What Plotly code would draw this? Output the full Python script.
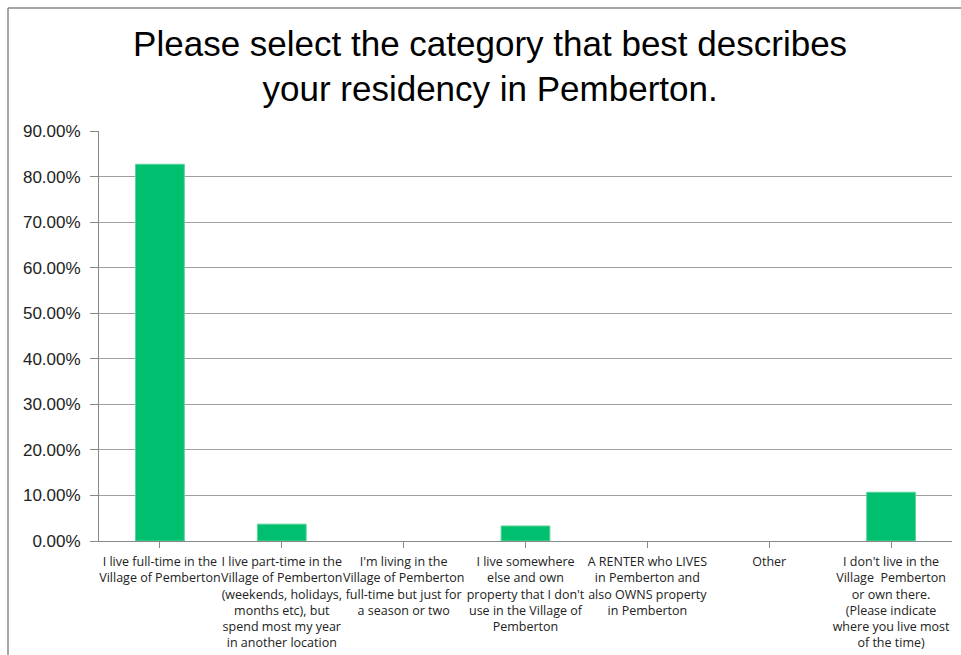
import plotly.graph_objects as go

categories = [
    "I live full-time in the<br>Village of Pemberton",
    "I live part-time in the<br>Village of Pemberton<br>(weekends, holidays,<br>months etc), but<br>spend most my year<br>in another location",
    "I'm living in the<br>Village of Pemberton<br>full-time but just for<br>a season or two",
    "I live somewhere<br>else and own<br>property that I don't<br>use in the Village of<br>Pemberton",
    "A RENTER who LIVES<br>in Pemberton and<br>also OWNS property<br>in Pemberton",
    "Other",
    "I don't live in the<br>Village  Pemberton<br>or own there.<br>(Please indicate<br>where you live most<br>of the time)",
]
values = [0.827, 0.037, 0.0, 0.033, 0.0, 0.0, 0.107]
y_ticks = [0, 0.1, 0.2, 0.3, 0.4, 0.5, 0.6, 0.7, 0.8, 0.9]

fig = go.Figure(go.Bar(
    x=list(range(len(categories))),
    y=values,
    marker=dict(color="#00BF6F",
                line=dict(color="#5ad49a", width=[1 if v > 0 else 0 for v in values])),
    width=0.4,
    hoverinfo="skip",
))

L, R, T, B = 99, 9, 131, 114
W, H = 961, 655
pw, ph = W - L - R, H - T - B

fig.update_layout(
    width=W, height=H,
    margin=dict(l=L, r=R, t=T, b=B),
    paper_bgcolor="white", plot_bgcolor="white",
    showlegend=False,
    font=dict(family="Liberation Sans, Arial, sans-serif", color="#222"),
    title=dict(
        text="Please select the category that best describes<br>your residency in Pemberton.",
        x=0.51, xanchor="center", y=0.915, yanchor="top",
        font=dict(size=35, color="black", family="Liberation Sans, Arial, sans-serif"),
        automargin=False,
    ),
    xaxis=dict(
        tickmode="array", tickvals=list(range(len(categories))), ticktext=categories,
        range=[-0.5, len(categories) - 0.5],
        ticks="outside", tickson="boundaries", ticklen=6, tickcolor="#888",
        ticklabelstandoff=3, automargin=False,
        showgrid=False, showline=True, linecolor="#888", linewidth=1,
        tickfont=dict(size=12.5, color="#222", family="Open Sans, sans-serif"),
        tickangle=0, fixedrange=True,
    ),
    yaxis=dict(
        range=[0, 0.9], tickvals=y_ticks, tickformat=".2%",
        showgrid=True, gridcolor="#a0a0a0", gridwidth=1,
        showline=True, linecolor="#888", linewidth=1,
        ticks="outside", ticklen=8, tickcolor="#888",
        ticklabelstandoff=6, automargin=False,
        tickfont=dict(size=17, color="#222"),
        zeroline=False, fixedrange=True,
    ),
    shapes=[
        dict(type="line", xref="paper", yref="paper",
             x0=(8 - L) / pw, x1=(8 - L) / pw, y0=(H - B - 8) / ph, y1=-(B + 5) / ph,
             line=dict(color="#888", width=1.5)),
        dict(type="line", xref="paper", yref="paper",
             x0=(8 - L) / pw, x1=1 + R / pw, y0=(H - B - 8) / ph, y1=(H - B - 8) / ph,
             line=dict(color="#888", width=1.5)),
    ],
    bargap=0.6,
)

fig.write_html("out.html", config={"displayModeBar": False},
               post_script="document.body.style.margin='0';")
